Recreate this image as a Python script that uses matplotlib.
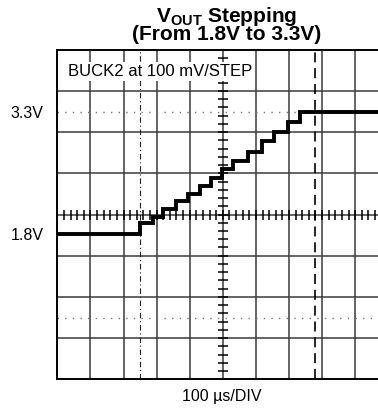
import matplotlib
matplotlib.use("Agg")
import matplotlib.pyplot as plt
import numpy as np

plt.rcParams['font.family'] = ['Liberation Sans', 'DejaVu Sans']

# Time base: 100 us/div, 10 divisions; vertical: 8 divisions
t_edges = [0, 250, 288, 320, 358, 396, 431, 464, 498, 532, 575, 617, 655, 697, 733, 1000]
v_levels = [1.80, 1.925, 2.006, 2.098, 2.204, 2.287, 2.385, 2.488, 2.595, 2.698,
            2.809, 2.941, 3.055, 3.175, 3.30]
level_labels = ["1.8V", "3.3V"]
level_values = [1.80, 3.30]
cursor_dotted = [3.30, 0.753]
cursor_dashdot_t = 250
cursor_dashed_t = 778

t_max = 1000
v_max = 4.07
n_xdiv = 10
n_ydiv = 8

fig = plt.figure(figsize=(3.78, 4.09), dpi=100)
ax = fig.add_axes([57.3 / 378, (409 - 379.3) / 409, 331 / 378, 329.6 / 409])
ax.set_xlim(0, t_max)
ax.set_ylim(0, v_max)

grid_c = '#3a3a3a'
for x in np.linspace(0, t_max, n_xdiv + 1)[1:-1]:
    ax.axvline(x, color=grid_c, lw=1.1, zorder=1)
for y in np.linspace(0, v_max, n_ydiv + 1)[1:-1]:
    ax.axhline(y, color=grid_c, lw=1.1, zorder=1)

# Centre axes with minor graticule ticks
xc = t_max / 2
yc = v_max / 2
xt = np.arange(0, t_max + 1, t_max / n_xdiv / 5)
yt = np.arange(0, v_max + 1e-6, v_max / n_ydiv / 5)
ax.plot(xt, np.full_like(xt, yc), ls='none', marker='|', ms=7, mew=1.1, color='black', zorder=2)
ax.plot(np.full_like(yt, xc), yt, ls='none', marker='_', ms=7, mew=1.1, color='black', zorder=2)

# Cursors
for v in cursor_dotted:
    ax.axhline(v, color='#777777', lw=1.0, ls=(0, (1, 4.5)), zorder=2)
ax.axvline(cursor_dashdot_t, color='#222222', lw=0.8, ls=(0, (5, 2.5, 1, 2.5)), zorder=2)
ax.axvline(cursor_dashed_t, color='black', lw=1.2, ls=(0, (6, 3.5)), zorder=2)

# Output voltage staircase
ax.step(t_edges, v_levels + [v_levels[-1]], where='post', color='black', lw=2.8,
        solid_joinstyle='miter', zorder=4)

for s in ['top', 'right']:
    ax.spines[s].set_visible(False)
ax.spines['top'].set_visible(True)
for s in ['left', 'bottom', 'top']:
    ax.spines[s].set_linewidth(1.4)
    ax.spines[s].set_color('black')
ax.set_xticks([])
ax.set_yticks(level_values)
ax.set_yticklabels(level_labels, fontsize=11.5)
ax.tick_params(axis='y', length=0, pad=10)

ax.text(11 / 331 * t_max, v_max * (1 - 22 / 329.6), "BUCK2 at 100 mV/STEP", fontsize=12,
        va='center', ha='left', zorder=5,
        bbox=dict(facecolor='white', edgecolor='none', pad=1.5))

fig.text(227 / 378, 1 - 16 / 409, r"V$_{\mathregular{OUT}}$ Stepping", ha='center', va='center',
         fontsize=15, fontweight='bold')
fig.text(227 / 378, 1 - 35 / 409, "(From 1.8V to 3.3V)", ha='center', va='center',
         fontsize=15, fontweight='bold')
fig.text(222 / 378, 1 - 397 / 409, "100 µs/DIV", ha='center', va='center', fontsize=11.5)

fig.savefig("out.png", dpi=100)
